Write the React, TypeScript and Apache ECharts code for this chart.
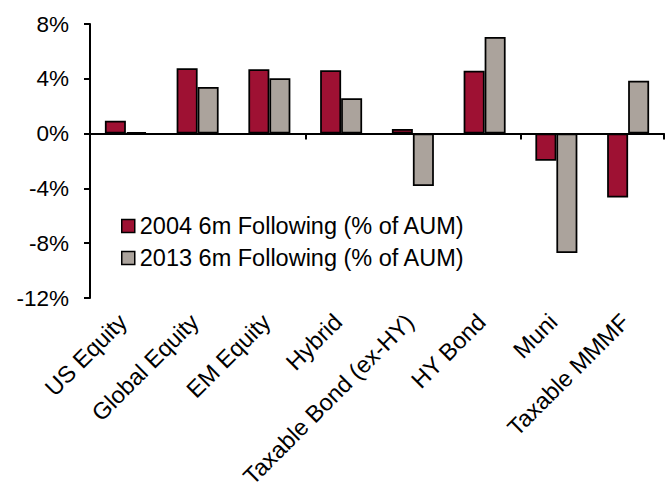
import React, { useEffect, useRef } from "react";
import * as echarts from "echarts";

const categories = [
  "US Equity",
  "Global Equity",
  "EM Equity",
  "Hybrid",
  "Taxable Bond (ex-HY)",
  "HY Bond",
  "Muni",
  "Taxable MMMF",
];
const series2004 = [0.93, 4.77, 4.7, 4.63, 0.34, 4.58, -1.99, -4.67];
const series2013 = [0.12, 3.41, 4.04, 2.58, -3.82, 7.06, -8.71, 3.85];
const seriesNames = ["2004 6m Following (% of AUM)", "2013 6m Following (% of AUM)"];
const yTicks = { min: -12, max: 8, interval: 4 };

const FONT = "'Liberation Sans', Arial, sans-serif";

export default function App() {
  const ref = useRef<HTMLDivElement>(null);
  useEffect(() => {
    if (!ref.current) return;
    const chart = echarts.init(ref.current, undefined, { renderer: "svg" });
    const gridBase = { top: 24, height: 274, width: 574 };
    chart.setOption({
      animation: false,
      textStyle: { fontFamily: FONT, color: "#000" },
      grid: [
        { ...gridBase, left: 90 },
        { ...gridBase, left: 87 },
      ],
      legend: {
        orient: "vertical",
        left: 121,
        top: 214,
        padding: 0,
        itemWidth: 13,
        itemHeight: 13,
        itemGap: 8,
        icon: "rect",
        itemStyle: { borderColor: "#000", borderWidth: 1.5 },
        textStyle: { fontFamily: FONT, fontSize: 23.5, lineHeight: 22, color: "#000" },
        data: seriesNames,
      },
      xAxis: [
        {
          type: "category",
          gridIndex: 0,
          data: categories,
          position: "bottom",
          axisLine: { onZero: true, lineStyle: { color: "#000", width: 2 } },
          axisTick: { show: true, length: 6, lineStyle: { color: "#000", width: 2 } },
          axisLabel: { show: false },
        },
        {
          type: "category",
          gridIndex: 1,
          data: categories,
          position: "bottom",
          axisLine: { show: false, onZero: false },
          axisTick: { show: false },
          axisLabel: {
            show: true,
            interval: 0,
            rotate: 45,
            margin: 20,
            fontSize: 23.5,
            fontFamily: FONT,
            color: "#000",
          },
        },
      ],
      yAxis: [
        {
          type: "value",
          gridIndex: 0,
          min: yTicks.min,
          max: yTicks.max,
          interval: yTicks.interval,
          axisLine: { show: true, lineStyle: { color: "#000", width: 2 } },
          axisTick: { show: true, length: 6, lineStyle: { color: "#000", width: 2 } },
          splitLine: { show: false },
          axisLabel: {
            formatter: (v: number) => `${v}%`,
            fontSize: 22.5,
            margin: 21,
            fontFamily: FONT,
            color: "#000",
          },
        },
        {
          type: "value",
          gridIndex: 1,
          min: yTicks.min,
          max: yTicks.max,
          interval: yTicks.interval,
          show: false,
        },
      ],
      series: [
        {
          name: seriesNames[0],
          type: "bar",
          xAxisIndex: 0,
          yAxisIndex: 0,
          data: series2004,
          barWidth: 21,
          barGap: "0%",
          itemStyle: { color: "#9E1133", borderColor: "#000", borderWidth: 1.75 },
        },
        {
          name: seriesNames[1],
          type: "bar",
          xAxisIndex: 0,
          yAxisIndex: 0,
          data: series2013,
          barWidth: 21,
          barGap: "0%",
          itemStyle: { color: "#ABA39C", borderColor: "#000", borderWidth: 1.75 },
        },
      ],
    });
    return () => chart.dispose();
  }, []);
  return <div ref={ref} style={{ width: 670, height: 495, position: "absolute", left: 0, top: 0 }} />;
}
